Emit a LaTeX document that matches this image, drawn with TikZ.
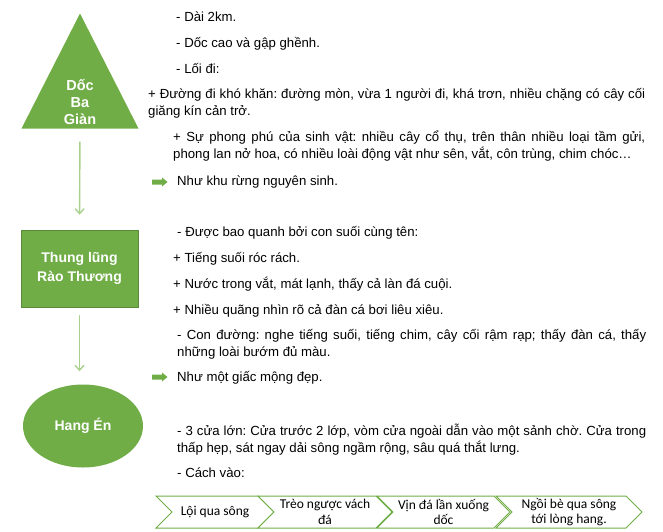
\documentclass[tikz,border=0pt]{standalone}
\usepackage{fontspec}
\setmainfont{Liberation Sans}
\newfontfamily\calibri{Carlito}
\usetikzlibrary{shapes.geometric,shapes.symbols,arrows.meta}
\definecolor{groen}{HTML}{70AD47}
\definecolor{lichtgroen}{HTML}{A9D18E}
\frenchspacing

\begin{document}
\begin{tikzpicture}[
x=1pt, y=-1pt,
font=\fontsize{13.2}{17}\selectfont
]

\tikzstyle{tr} = [fill=groen, isosceles triangle, isosceles triangle stretches, shape border rotate=90, minimum width=117pt, minimum height=115pt, inner sep=0pt]
\tikzstyle{trt} = [text=white, font=\bfseries\fontsize{14.5}{17}\selectfont, align=center, inner sep=0pt]
\tikzstyle{r} = [fill=groen, draw=groen!80!black, line width=0.6pt, shape=rectangle, minimum width=117pt, minimum height=77pt, text=white, font=\bfseries\fontsize{14}{19}\selectfont, align=center]
\tikzstyle{e} = [fill=groen, ellipse, minimum width=120pt, minimum height=83pt, text=white, font=\bfseries\fontsize{14}{17}\selectfont]
\tikzstyle{pijl} = [draw=lichtgroen, line width=1.4pt, -{Straight Barb[length=5pt,width=9pt]}]
\tikzstyle{tx} = [anchor=base west, inner sep=0pt]
\tikzstyle{par} = [tx, align=justify]
\tikzstyle{dik} = [fill=groen]
\tikzstyle{chv} = [signal, signal from=west, signal to=east, draw=groen, line width=1pt, fill=white, minimum height=32pt, inner sep=0pt, align=center, font=\calibri\fontsize{13.5}{15.5}\selectfont]

\useasboundingbox (0,0) rectangle (663,532);

% linker kolom
\node[tr, anchor=apex] (D) at (80,13) {};
\node[trt] (Dt) at (80,102) {D\'{\^o}c\\Ba\\Gi\`an};
\node[r] (T) at (79.5,268.5) {Thung lũng\\Rào Thương};
\node[e] (H) at (83,426) {Hang Én};

\draw[pijl, shorten <=13pt, shorten >=15pt] (D.south) -- (T.north);
\draw[pijl, shorten <=8pt, shorten >=13pt] (T.south) -- (T.south |- H.north);

% Doc Ba Gian
\node[tx] (d1) at (176,22) {- Dài 2km.};
\node[tx] (d2) at (176,48) {- Dốc cao và gập ghềnh.};
\node[tx] (d3) at (176,74) {- Lối đi:};
\node[par, text width=497pt] (d4) at (148,99) {+ Đường đi khó khăn: đường mòn, vừa 1 người đi, khá trơn, nhiều chặng có cây cối\linebreak giăng kín cản trở.};
\node[par, text width=472pt] (d5) at (173,141) {\hangindent=4pt\hangafter=1 + Sự phong phú của sinh vật: nhiều cây cổ thụ, trên thân nhiều loại tầm gửi,\linebreak phong lan nở hoa, có nhiều loài động vật như sên, vắt, côn trùng, chim chóc…};
\coordinate (a1) at (152,182);
\fill[dik] (a1) ++(0,-2.5) -- ++(10,0) -- ++(0,-2) -- ++(5.5,4.5) -- ++(-5.5,4.5) -- ++(0,-2) -- ++(-10,0) -- cycle;
\node[tx] (d6) at (177,185) {Như khu rừng nguyên sinh.};

% Thung lung Rao Thuong
\node[tx] (t1) at (177,236) {- Được bao quanh bởi con suối cùng tên:};
\node[tx] (t2) at (173,262) {+ Tiếng suối róc rách.};
\node[tx] (t3) at (173,288) {+ Nước trong vắt, mát lạnh, thấy cả làn đá cuội.};
\node[tx] (t4) at (173,314) {+ Nhiều quãng nhìn rõ cả đàn cá bơi liêu xiêu.};
\node[par, text width=469pt] (t5) at (177,339) {- Con đường: nghe tiếng suối, tiếng chim, cây cối rậm rạp; thấy đàn cá, thấy\linebreak những loài bướm đủ màu.};
\coordinate (a2) at (152,377);
\fill[dik] (a2) ++(0,-2.5) -- ++(10,0) -- ++(0,-2) -- ++(5.5,4.5) -- ++(-5.5,4.5) -- ++(0,-2) -- ++(-10,0) -- cycle;
\node[tx] (t6) at (177,381) {Như một giấc mộng đẹp.};

% Hang En
\node[par, text width=469pt] (h1) at (177,435) {- 3 cửa lớn: Cửa trước 2 lớp, vòm cửa ngoài dẫn vào một sảnh chờ. Cửa trong\linebreak thấp hẹp, sát ngay dải sông ngầm rộng, sâu quá thắt lưng.};
\node[tx] (h2) at (177,477) {- Cách vào:};

\node[chv, minimum width=118pt] (K1) at (215,512) {Lội qua sông};
\node[chv, minimum width=134pt] (K2) at (325,512) {Trèo ngược vách\\đá};
\node[chv, minimum width=133pt] (K3) at (443.5,512) {Vịn đá lần xuống\\dốc};
\node[chv, minimum width=146pt] (K4) at (569,512) {Ngồi bè qua sông\\tới lòng hang.};

\end{tikzpicture}
\end{document}
